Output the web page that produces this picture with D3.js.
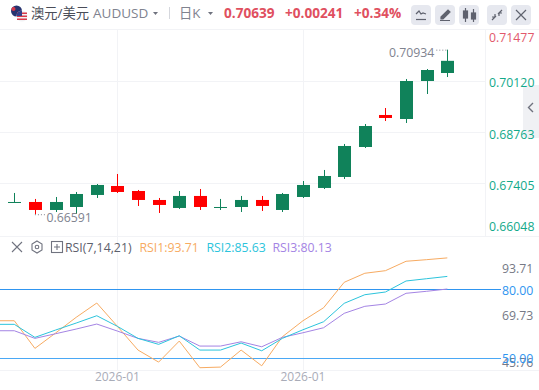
<!DOCTYPE html>
<html>
<head>
<meta charset="utf-8">
<script src="https://cdn.jsdelivr.net/npm/d3@7"></script>
<style>
  html, body { margin: 0; padding: 0; background: #fff; overflow: hidden; }
  text { font-family: "Open Sans", "Noto Sans CJK SC", sans-serif; }
</style>
</head>
<body>
<svg id="chart" width="539" height="390"></svg>
<script>
// candles, left to right
const opens  = [.66909,.66914,.66703,.66782,.67099,.67336,.67204,.66967,.66756,.67073,.66770,.66782,.66967,.66703,.67046,.67284,.67574,.68365,.69210,.69104,.70107,.70318];
const highs  = [.67152,.66994,.67046,.67178,.67389,.67653,.67231,.67020,.67204,.67257,.66994,.67073,.67073,.67152,.67468,.67759,.68445,.68972,.69394,.70160,.70423,.70934];
const lows   = [.66888,.66591,.66650,.66598,.67020,.67152,.66809,.66624,.66730,.66703,.66703,.66650,.66677,.66650,.67020,.67257,.67521,.68339,.69051,.68999,.69764,.70212];
const closes = [.66914,.66703,.66914,.67125,.67363,.67178,.66967,.66835,.67073,.66782,.66782,.66967,.66809,.67125,.67363,.67600,.68392,.68919,.69131,.70107,.70397,.70639];
const downFlags = [0,1,0,0,0,1,1,1,0,1,0,0,1,0,0,0,0,0,1,0,0,0];

// rsi has one more leading value, its candle sits just off the left edge
const rsi1 = [66.27,66.27,54.20,60.89,67.76,74.01,63.82,53.46,48.21,57.39,45.76,46.03,53.46,46.59,59.27,66.27,71.95,83.06,87.00,88.13,92.24,92.94,93.71];
const rsi2 = [64.70,64.70,59.01,62.20,65.26,68.46,63.82,58.57,55.95,59.71,53.46,53.46,56.52,53.15,58.57,62.33,65.83,73.88,77.64,78.82,83.63,84.63,85.63];
const rsi3 = [61.90,61.90,58.57,60.59,62.64,64.83,61.77,58.57,56.83,59.58,55.21,55.21,57.09,54.90,59.01,61.02,63.21,69.51,72.57,73.57,78.25,79.13,80.13];

const priceTicks = [0.71477, 0.70120, 0.68763, 0.67405, 0.66048];
const rsiTicks = [93.71, 69.73, 45.76];
const rsiLevels = [80, 50];
const dateTicks = [5, 14];
const dateLabels = ["2026-01", "2026-01"];

const svg = d3.select("#chart");
const W = 539, H = 390;

const x = d3.scaleLinear().domain([0, 21]).range([14.3, 447.3]);
const yPrice = d3.scaleLinear().domain([0.7012, 0.66048]).range([80.5, 234.8]);
const yRsi = d3.scaleLinear().domain([80, 50]).range([289.3, 358]);

const GRID = "#f2f3f6", UP = "#10825a", DOWN = "#ff0000", BLUE = "#2f95f0";
const ORANGE = "#f7ab62", CYAN = "#2cc4dc", PURPLE = "#a484e4";

svg.append("defs").append("clipPath").attr("id", "plot")
  .append("rect").attr("x", 0).attr("y", 29).attr("width", 485).attr("height", 341);

//========== grid ==========
const grid = svg.append("g").attr("stroke", GRID).attr("stroke-width", 1);
[29.5, 236.5, 370.5].forEach(y => grid.append("line").attr("x1", 0).attr("x2", W).attr("y1", y).attr("y2", y));
priceTicks.slice(1, 4).forEach(p => {
  const y = Math.round(yPrice(p)) + 0.5;
  grid.append("line").attr("x1", 0).attr("x2", 485).attr("y1", y).attr("y2", y);
});
dateTicks.forEach(i => {
  const xx = Math.round(x(i)) + 0.5;
  grid.append("line").attr("x1", xx).attr("x2", xx).attr("y1", 29).attr("y2", 370);
});
grid.append("line").attr("x1", 485.5).attr("x2", 485.5).attr("y1", 29).attr("y2", 236);

// collapse tab, sits under the price labels
svg.append("path").attr("d", "M539 85h-12a4 4 0 0 0 -4 4v45a4 4 0 0 0 4 4h12z").attr("fill", "#f0f1f4");
svg.append("path").attr("d", "M533 103l-4.5 4.5 4.5 4.5").attr("fill", "none").attr("stroke", "#6f727e").attr("stroke-width", 1.4);

//========== candles ==========
const candles = svg.append("g").selectAll("g").data(opens.map((o, i) => i)).enter().append("g")
  .attr("fill", i => downFlags[i] ? DOWN : UP)
  .attr("stroke", "none");
candles.append("rect")
  .attr("x", i => Math.round(x(i)))
  .attr("width", 1)
  .attr("y", i => yPrice(highs[i]))
  .attr("height", i => yPrice(lows[i]) - yPrice(highs[i]));
candles.append("rect")
  .attr("x", i => Math.round(x(i)) - 6)
  .attr("width", 13)
  .attr("y", i => Math.min(yPrice(opens[i]), yPrice(closes[i])))
  .attr("height", i => Math.max(1, Math.abs(yPrice(opens[i]) - yPrice(closes[i]))));

// high / low markers
const maxIdx = d3.maxIndex(highs), minIdx = d3.minIndex(lows);
const markColor = "#80838f";
svg.append("line")
  .attr("x1", x(maxIdx) - 11).attr("x2", x(maxIdx))
  .attr("y1", yPrice(highs[maxIdx]) + 0.5).attr("y2", yPrice(highs[maxIdx]) + 0.5)
  .attr("stroke", markColor).attr("stroke-dasharray", "1 2");
svg.append("text")
  .attr("x", x(maxIdx) - 13).attr("y", yPrice(highs[maxIdx]) + 7)
  .attr("text-anchor", "end").attr("font-size", 12.3).attr("fill", markColor)
  .text(highs[maxIdx].toFixed(5));
svg.append("line")
  .attr("x1", x(minIdx)).attr("x2", x(minIdx) + 10)
  .attr("y1", yPrice(lows[minIdx]) + 0.5).attr("y2", yPrice(lows[minIdx]) + 0.5)
  .attr("stroke", markColor).attr("stroke-dasharray", "1 2");
svg.append("text")
  .attr("x", x(minIdx) + 11.5).attr("y", yPrice(lows[minIdx]) + 8)
  .attr("font-size", 12.3).attr("fill", markColor)
  .text(lows[minIdx].toFixed(5));

//========== rsi ==========
svg.append("g").selectAll("line").data(rsiLevels).enter().append("line")
  .attr("x1", 0).attr("x2", 501)
  .attr("y1", d => Math.round(yRsi(d)) + 0.5).attr("y2", d => Math.round(yRsi(d)) + 0.5)
  .attr("stroke", (d, i) => i ? "#4aa8f5" : BLUE);

const rsiLine = d3.line().x((d, i) => x(i - 1)).y(d => yRsi(d));
const rsiG = svg.append("g").attr("clip-path", "url(#plot)").attr("fill", "none").attr("stroke-width", 1);
rsiG.append("path").attr("d", rsiLine(rsi1)).attr("stroke", ORANGE);
rsiG.append("path").attr("d", rsiLine(rsi3)).attr("stroke", PURPLE);
rsiG.append("path").attr("d", rsiLine(rsi2)).attr("stroke", CYAN);

//========== axes ==========
const priceNudge = [8, 2.5, 2.5, 2.5, -8];
const priceAxis = svg.append("g").attr("transform", "translate(489,0)")
  .call(d3.axisRight(yPrice).tickValues(priceTicks).tickSize(0).tickPadding(0).tickFormat(d3.format(".5f")));
priceAxis.select(".domain").remove();
priceAxis.selectAll("text")
  .attr("font-size", 12.3)
  .attr("transform", (d, i) => `translate(0,${priceNudge[i]})`)
  .attr("fill", (d, i) => i ? "#12a98a" : "#e2596b");

const rsiNudge = [11, 3, -5.5];
const rsiAxis = svg.append("g").attr("transform", "translate(502,0)")
  .call(d3.axisRight(yRsi).tickValues(rsiTicks).tickSize(0).tickPadding(0).tickFormat(d3.format(".2f")));
rsiAxis.select(".domain").remove();
rsiAxis.selectAll("text")
  .attr("font-size", 12.3).attr("fill", "#767986")
  .attr("transform", (d, i) => `translate(0,${rsiNudge[i]})`);

const levelAxis = svg.append("g").attr("transform", "translate(502,0)")
  .call(d3.axisRight(yRsi).tickValues(rsiLevels).tickSize(0).tickPadding(0).tickFormat(d3.format(".2f")));
levelAxis.select(".domain").remove();
levelAxis.selectAll("text").attr("font-size", 12.3).attr("fill", BLUE)
  .attr("transform", "translate(0,1)");

const dateAxis = svg.append("g").attr("transform", "translate(0,371)")
  .call(d3.axisBottom(x).tickValues(dateTicks).tickSize(0).tickPadding(0)
    .tickFormat((d, i) => dateLabels[i]));
dateAxis.select(".domain").remove();
dateAxis.selectAll("text").attr("font-size", 12).attr("fill", "#a9acb8").attr("dy", "0.85em")
  .attr("transform", "translate(-0.5,0)");

//========== header ==========
function flag(g) {
  g.append("circle").attr("cx", 16.5).attr("cy", 11).attr("r", 5.5).attr("fill", "#27336f");
  g.append("circle").attr("cx", 13.5).attr("cy", 9).attr("r", 2).attr("fill", "#d9394a");
  g.append("circle").attr("cx", 19).attr("cy", 13).attr("r", 1).attr("fill", "#fff");
  g.append("circle").attr("cx", 22).attr("cy", 16).attr("r", 5.5).attr("fill", "#f2f2f4");
  [12.5, 15.5, 18.5].forEach(y => g.append("rect").attr("x", 17).attr("y", y).attr("width", 10).attr("height", 1.5).attr("fill", "#d9394a"));
  g.append("path").attr("d", "M16.5 16a5.5 5.5 0 0 1 5.5 -5.5v5.5z").attr("fill", "#34408a");
}
flag(svg.append("g"));

const head = svg.append("g").attr("font-size", 13);
head.append("text").attr("x", 31).attr("y", 17.5).attr("fill", "#4a4d58")
  .attr("font-family", "'Noto Sans CJK SC'").attr("font-size", 13.3).text("澳元/美元");
head.append("text").attr("x", 93).attr("y", 18).attr("fill", "#80838f").attr("font-size", 13.5).text("AUDUSD");
head.append("path").attr("d", "M153 12h5l-2.5 3z").attr("fill", "#6f727e");
head.append("line").attr("x1", 169.5).attr("x2", 169.5).attr("y1", 7).attr("y2", 19).attr("stroke", "#d5d7dd");
head.append("text").attr("x", 179).attr("y", 17.5).attr("fill", "#80838f")
  .attr("font-family", "'Noto Sans CJK SC'").attr("font-size", 13.3).text("日K");
head.append("path").attr("d", "M208 12h5l-2.5 3z").attr("fill", "#6f727e");

const quote = ["0.70639", "+0.00241", "+0.34%"], quoteX = [224, 285, 354];
quote.forEach((t, i) => head.append("text").attr("x", quoteX[i]).attr("y", 17.5)
  .attr("fill", "#e0505f").attr("font-weight", 700).attr("font-size", 13.6).text(t));

// toolbar buttons
const btnX = [411, 435, 459, 487, 511];
svg.append("g").selectAll("rect").data(btnX).enter().append("rect")
  .attr("x", d => d).attr("y", 5).attr("width", 20).attr("height", 20).attr("rx", 4).attr("fill", "#e6e8ef");
const ic = svg.append("g").attr("stroke", "#5f626e").attr("fill", "none").attr("stroke-width", 1.2);
ic.append("path").attr("d", "M416 14l3 -3 2 3 2 -1 3 1");
ic.append("path").attr("d", "M416 19.5h10");
ic.append("path").attr("d", "M441 17l7 -7 2 2 -7 7h-2zM440 20.5h10").attr("fill", "#5f626e");
ic.append("path").attr("d", "M465.5 8v14M473.5 9v13");
ic.append("rect").attr("x", 463.5).attr("y", 11).attr("width", 4).attr("height", 7).attr("fill", "#5f626e");
ic.append("rect").attr("x", 471.5).attr("y", 13).attr("width", 4).attr("height", 6).attr("fill", "#5f626e");
ic.append("path").attr("d", "M492 20l4 -4M502 10l-4 4M495 14v3h-3M499 16v-3h3");
ic.append("path").attr("d", "M516 10l10 10M526 10l-10 10");

//========== rsi legend ==========
const ctl = svg.append("g").attr("stroke", "#70737f").attr("fill", "none").attr("stroke-width", 1.1);
ctl.append("path").attr("d", "M12 242l10 10M22 242l-10 10");
ctl.append("path").attr("d", "M37 241l5 3v6l-5 3 -5 -3v-6z");
ctl.append("circle").attr("cx", 37).attr("cy", 247).attr("r", 1.8);
ctl.append("rect").attr("x", 51.5).attr("y", 241.5).attr("width", 11).attr("height", 11);
ctl.append("path").attr("d", "M54 247h6M57 244v6");

const legendText = ["RSI(7,14,21)", `RSI1:${rsi1[22].toFixed(2)}`, `RSI2:${rsi2[22].toFixed(2)}`, `RSI3:${rsi3[22].toFixed(2)}`];
const legendX = [65, 139.5, 206.5, 272.5], legendColor = ["#5d606c", ORANGE, CYAN, PURPLE];
svg.append("g").selectAll("text").data(legendText).enter().append("text")
  .attr("x", (d, i) => legendX[i]).attr("y", 252)
  .attr("font-size", 12.3).attr("fill", (d, i) => legendColor[i]).text(d => d);
</script>
</body>
</html>
